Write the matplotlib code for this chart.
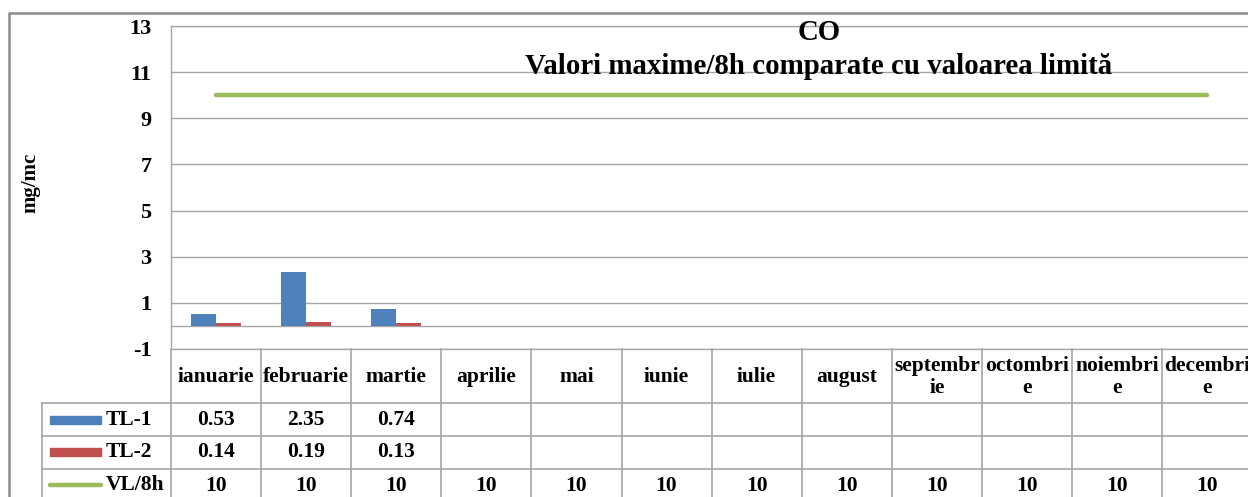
import numpy as np
import matplotlib
matplotlib.use("Agg")
import matplotlib.pyplot as plt
from matplotlib.patches import Rectangle
from matplotlib.lines import Line2D

months = ['ianuarie', 'februarie', 'martie', 'aprilie', 'mai', 'iunie', 'iulie',
          'august', 'septembr\nie', 'octombri\ne', 'noiembri\ne', 'decembri\ne']
tl1 = [0.53, 2.35, 0.74, np.nan, np.nan, np.nan, np.nan, np.nan, np.nan, np.nan, np.nan, np.nan]
tl2 = [0.14, 0.19, 0.13, np.nan, np.nan, np.nan, np.nan, np.nan, np.nan, np.nan, np.nan, np.nan]
vl = [10, 10, 10, 10, 10, 10, 10, 10, 10, 10, 10, 10]
series_names = ['TL-1', 'TL-2', 'VL/8h']
yticks = [-1, 1, 3, 5, 7, 9, 11, 13]
title1 = 'CO'
title2 = 'Valori maxime/8h comparate cu valoarea limită'
ylabel = 'mg/mc'

BLUE = '#4F81BD'
RED = '#C0504D'
GREEN = '#9BBB59'
GRID = '#A6A6A6'
FONT = 'Liberation Serif'

W, H = 1248, 497
fig = plt.figure(figsize=(W / 100, H / 100), dpi=100)

# pixel geometry
x0, colw = 171, 90.1
ytop, ybot = 26, 349
ncol = len(months)
xright = x0 + ncol * colw

ax = fig.add_axes([x0 / W, (H - ybot) / H, (xright - x0) / W, (ybot - ytop) / H])
ax.set_xlim(0, ncol)
ax.set_ylim(-1, 13)
xs = np.arange(ncol) + 0.5
bw = 25 / colw
ax.bar(xs - bw / 2, tl1, width=bw, color=BLUE, zorder=3)
ax.bar(xs + bw / 2, tl2, width=bw, color=RED, zorder=3)
ax.plot(xs, vl, color=GREEN, lw=3.2, solid_capstyle='round', zorder=4)
ax.set_yticks(yticks)
ax.set_yticklabels([str(v) for v in yticks], fontfamily=FONT, fontweight='bold', fontsize=16)
ax.tick_params(axis='y', length=0, pad=14)
ax.set_xticks([])
for v in yticks:
    ax.axhline(v, color=GRID, lw=1, zorder=1)
ax.axhline(0, color=GRID, lw=1, zorder=1)
for s in ['right']:
    ax.spines[s].set_visible(False)
for s in ['left', 'top', 'bottom']:
    ax.spines[s].set_color(GRID)
    ax.spines[s].set_linewidth(1)

# overlay in pixel coords
ov = fig.add_axes([0, 0, 1, 1], facecolor='none')
ov.set_xlim(0, W)
ov.set_ylim(H, 0)
ov.axis('off')

# outer border
ov.add_line(Line2D([9, 9, W + 5], [H + 5, 12.5, 12.5], color='#8C8C8C', lw=1.8))

# title
ov.text(819, 33, title1, ha='center', va='center', fontfamily=FONT, fontweight='bold', fontsize=20.8)
ov.text(819, 67, title2, ha='center', va='center', fontfamily=FONT, fontweight='bold', fontsize=20.8)
ov.text(30, 183, ylabel, ha='center', va='center', rotation=90, fontfamily=FONT, fontweight='bold', fontsize=15)

# table
rows_y = [349, 403.3, 436, 468.7, H + 40]
tlw = 1.2
for i in range(ncol + 1):
    x = x0 + i * colw
    ov.add_line(Line2D([x, x], [349, H + 5], color=GRID, lw=tlw))
ov.add_line(Line2D([41.7, 41.7], [403.3, H + 5], color=GRID, lw=tlw))
for y in rows_y[1:4]:
    ov.add_line(Line2D([41.7, xright], [y, y], color=GRID, lw=tlw))

tfs = 15.5
for i, m in enumerate(months):
    cx = x0 + (i + 0.5) * colw
    ov.text(cx, 377, m, ha='center', va='center', fontfamily=FONT, fontweight='bold',
            fontsize=tfs, linespacing=1.1)
    for r, vals in enumerate([tl1, tl2, vl]):
        v = vals[i]
        if not (isinstance(v, float) and np.isnan(v)):
            cy = (rows_y[r + 1] + rows_y[r + 2]) / 2 if r < 2 else 486
            ov.text(cx, cy, f'{v:g}', ha='center', va='center', fontfamily=FONT,
                    fontweight='bold', fontsize=tfs)

# legend keys
for r, (name, col) in enumerate(zip(series_names, [BLUE, RED, GREEN])):
    cy = (rows_y[r + 1] + rows_y[r + 2]) / 2 if r < 2 else 485
    if r < 2:
        ov.add_patch(Rectangle((50, cy - 4), 51, 8, color=col))
    else:
        ov.add_line(Line2D([50, 101], [cy, cy], color=col, lw=3.2, solid_capstyle='round'))
    ov.text(106, cy, name, ha='left', va='center', fontfamily=FONT, fontweight='bold', fontsize=tfs)

fig.savefig('out.png', dpi=100)
